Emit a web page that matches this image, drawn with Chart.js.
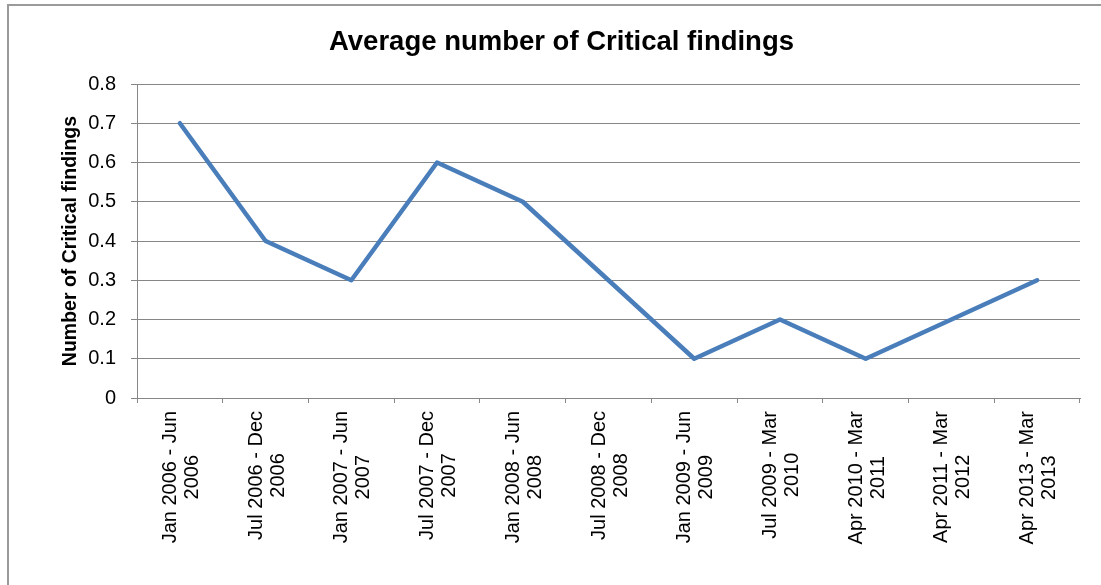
<!DOCTYPE html>
<html>
<head>
<meta charset="utf-8">
<title>Average number of Critical findings</title>
<script src="https://cdn.jsdelivr.net/npm/chart.js@4.4.1/dist/chart.umd.min.js"></script>
<style>
  html, body { margin: 0; padding: 0; background: #ffffff; }
  #wrap { width: 1101px; height: 585px; position: relative; }
</style>
</head>
<body>
<div id="wrap"><canvas id="chart" width="1101" height="585"></canvas></div>
<script>
// Reporting periods (two-line labels)
const categories = [
  ['Jan 2006 - Jun', '2006'],
  ['Jul 2006 - Dec', '2006'],
  ['Jan 2007 - Jun', '2007'],
  ['Jul 2007 - Dec', '2007'],
  ['Jan 2008 - Jun', '2008'],
  ['Jul 2008 - Dec', '2008'],
  ['Jan 2009 - Jun', '2009'],
  ['Jul 2009 - Mar', '2010'],
  ['Apr 2010 - Mar', '2011'],
  ['Apr 2011 - Mar', '2012'],
  ['Apr 2013 - Mar', '2013']
];

// Average number of critical findings per period
const criticalFindings = [0.7, 0.4, 0.3, 0.6, 0.5, 0.3, 0.1, 0.2, 0.1, 0.2, 0.3];

// Value axis ticks
const yTicks = [0, 0.1, 0.2, 0.3, 0.4, 0.5, 0.6, 0.7, 0.8];

const FONT = "'Liberation Sans', Arial, Helvetica, sans-serif";
const GRID = '#868686';

// Outer frame of the chart object
const framePlugin = {
  id: 'frame',
  beforeDraw(chart) {
    const ctx = chart.ctx;
    ctx.save();
    ctx.strokeStyle = '#9a9a9a';
    ctx.lineWidth = 2;
    ctx.beginPath();
    ctx.moveTo(8, chart.height);
    ctx.lineTo(8, 5);
    ctx.lineTo(chart.width, 5);
    ctx.stroke();
    ctx.restore();
  }
};

// Rotated, centred two-line category labels under the axis
const categoryLabels = {
  id: 'categoryLabels',
  afterDraw(chart) {
    const scale = chart.scales.x;
    const ctx = chart.ctx;
    const size = 20;
    const lineGap = 22;
    const topY = scale.top + 13;
    ctx.save();
    ctx.font = size + 'px ' + FONT;
    ctx.fillStyle = '#000000';
    ctx.textAlign = 'center';
    ctx.textBaseline = 'alphabetic';
    categories.forEach((lines, i) => {
      const x = scale.getPixelForTick(i);
      const widest = Math.max(...lines.map(t => ctx.measureText(t).width));
      const cy = topY + widest / 2;
      lines.forEach((t, j) => {
        ctx.save();
        ctx.translate(x - 4 + j * lineGap, cy);
        ctx.rotate(-Math.PI / 2);
        ctx.fillText(t, 0, 0);
        ctx.restore();
      });
    });
    ctx.restore();
  }
};

new Chart(document.getElementById('chart'), {
  type: 'line',
  data: {
    labels: categories,
    datasets: [{
      label: 'Average number of Critical findings',
      data: criticalFindings,
      borderColor: '#4a7ebb',
      borderWidth: 4.5,
      borderCapStyle: 'round',
      borderJoinStyle: 'round',
      pointRadius: 0,
      pointHoverRadius: 0,
      tension: 0,
      fill: false
    }]
  },
  options: {
    responsive: false,
    animation: false,
    devicePixelRatio: 1,
    layout: { padding: { left: 43, right: 21, top: 0, bottom: 0 } },
    plugins: {
      legend: { display: false },
      tooltip: { enabled: false },
      title: {
        display: true,
        text: 'Average number of Critical findings',
        color: '#000000',
        font: { family: FONT, size: 27.5, weight: 'bold', lineHeight: 1.2 },
        padding: { top: 25.5, bottom: 25.5 }
      }
    },
    scales: {
      x: {
        type: 'category',
        offset: true,
        grid: {
          offset: true,
          drawOnChartArea: false,
          drawTicks: true,
          tickLength: 5,
          color: GRID,
          lineWidth: 1
        },
        border: { display: true, color: GRID, width: 1 },
        ticks: { display: false },
        afterFit(scale) {
          scale.height = 187;
          scale.paddingLeft = 0;
          scale.paddingRight = 0;
        }
      },
      y: {
        min: 0,
        max: 0.8,
        afterBuildTicks(scale) {
          scale.ticks = yTicks.map(v => ({ value: v }));
        },
        grid: {
          drawOnChartArea: true,
          drawTicks: true,
          tickLength: 6,
          color: GRID,
          lineWidth: 1
        },
        border: { display: true, color: GRID, width: 1 },
        ticks: {
          color: '#000000',
          padding: 15,
          font: { family: FONT, size: 20 },
          callback: v => String(Math.round(v * 10) / 10)
        },
        title: {
          display: true,
          text: 'Number of Critical findings',
          color: '#000000',
          font: { family: FONT, size: 19.5, weight: 'bold', lineHeight: 1.2 },
          padding: { top: 15.5, bottom: 0 }
        },
        afterFit(scale) {
          scale.width = 94;
        }
      }
    }
  },
  plugins: [framePlugin, categoryLabels]
});
</script>
</body>
</html>
